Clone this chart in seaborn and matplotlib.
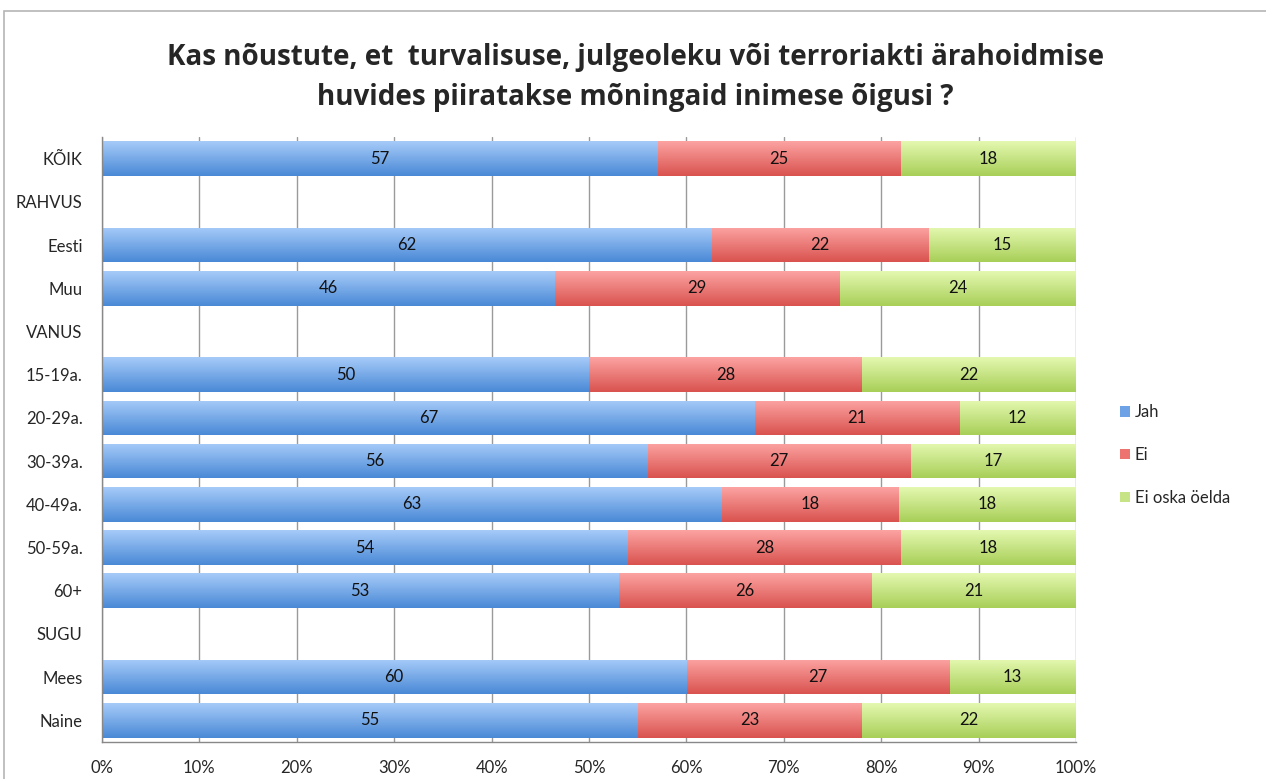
import numpy as np
import pandas as pd
import matplotlib
matplotlib.use("Agg")
import matplotlib.pyplot as plt
import seaborn as sns
from matplotlib.colors import LinearSegmentedColormap
from matplotlib.patches import Patch, Rectangle
from matplotlib.ticker import FixedLocator

# --- data ---
categories = ["KÕIK", "RAHVUS", "Eesti", "Muu", "VANUS", "15-19a.", "20-29a.",
              "30-39a.", "40-49a.", "50-59a.", "60+", "SUGU", "Mees", "Naine"]
jah = [57, None, 62, 46, None, 50, 67, 56, 63, 54, 53, None, 60, 55]
ei = [25, None, 22, 29, None, 28, 21, 27, 18, 28, 26, None, 27, 23]
ei_oska = [18, None, 15, 24, None, 22, 12, 17, 18, 18, 21, None, 13, 22]
series = ["Jah", "Ei", "Ei oska öelda"]
x_ticks = list(range(0, 101, 10))

title = ("Kas nõustute, et  turvalisuse, julgeoleku või terroriakti ärahoidmise\n"
         "huvides piiratakse mõningaid inimese õigusi ?")

# colours: (mid, top, bottom) for the Excel-like gradient
colors = {
    "Jah": ("#6da3e6", "#a6cbf9", "#4a89d6"),
    "Ei": ("#ec7370", "#fca3a2", "#d9534f"),
    "Ei oska öelda": ("#c6e486", "#e4f8b0", "#a8cf58"),
}

df = pd.DataFrame({"group": categories, "Jah": jah, "Ei": ei, "Ei oska öelda": ei_oska})
df = df.dropna().copy()
total = df[series].sum(axis=1)
for s in series:
    df[s + "_pct"] = df[s] / total * 100
df["cum1"] = df["Jah_pct"]
df["cum2"] = df["cum1"] + df["Ei_pct"]
df["cum3"] = df["cum2"] + df["Ei oska öelda_pct"]

sns.set_style("white")
plt.rcParams["font.family"] = ["Lato", "DejaVu Sans"]

fig = plt.figure(figsize=(12.66, 7.79), dpi=100)
ax = fig.add_axes([102 / 1266, 1 - 742 / 779, (1076 - 102) / 1266, (742 - 137) / 779])

# draw cumulative layers back to front, then paint a vertical gradient inside each bar
layers = [("cum3", "Ei oska öelda"), ("cum2", "Ei"), ("cum1", "Jah")]
for i, (col, name) in enumerate(layers):
    n_before = len(ax.patches)
    sns.barplot(data=df, x=col, y="group", order=categories, orient="h",
                color=colors[name][0], saturation=1, width=0.8, linewidth=0,
                ax=ax)
    cmap = LinearSegmentedColormap.from_list(name, [colors[name][1], colors[name][2]])
    grad = np.linspace(0, 1, 64).reshape(-1, 1)
    for p in ax.patches[n_before:]:
        p.set_zorder(2 + i * 0.1)
        x0, y0, w, h = p.get_x(), p.get_y(), p.get_width(), p.get_height()
        if w <= 0:
            continue
        im = ax.imshow(grad, cmap=cmap, aspect="auto", interpolation="bilinear",
                       extent=(x0, x0 + w, y0 + h, y0), zorder=2 + i * 0.1 + 0.05)
        im.set_clip_path(p)

ax.set_xlim(0, 100)
ax.set_ylim(len(categories) - 0.5, -0.5)

# value labels in the middle of each segment
ypos = {c: k for k, c in enumerate(categories)}
for _, r in df.iterrows():
    start = 0
    for s in series:
        ax.text(start + r[s + "_pct"] / 2, ypos[r["group"]], f"{int(r[s])}",
                ha="center", va="center", fontsize=12, color="#111111", zorder=5)
        start += r[s + "_pct"]

# axes styling (Excel look)
ax.set_xlabel("")
ax.set_ylabel("")
ax.set_xticks(x_ticks)
ax.set_xticklabels([f"{t}%" for t in x_ticks], fontsize=12)
ax.set_yticks(range(len(categories)))
ax.set_yticklabels(categories, fontsize=12)
ax.yaxis.set_minor_locator(FixedLocator(np.arange(-0.5, len(categories), 1)))
ax.tick_params(axis="y", which="major", length=0, pad=14)
ax.tick_params(axis="y", which="minor", length=5, color="#888888", direction="out")
ax.tick_params(axis="x", length=5, color="#888888", direction="out", pad=8)
ax.grid(axis="x", color="#9a9a9a", linewidth=1)
ax.set_axisbelow(True)
for side in ["top", "right"]:
    ax.spines[side].set_visible(False)
for side in ["left", "bottom"]:
    ax.spines[side].set_color("#888888")
    ax.spines[side].set_linewidth(1)

# legend
handles = [Patch(facecolor=colors[s][0], edgecolor="none") for s in series]
fig.legend(handles, series, loc="center left", bbox_to_anchor=(1120 / 1266, 1 - 455 / 779),
           frameon=False, fontsize=12, handlelength=0.6, handleheight=0.6,
           handletextpad=0.3, labelspacing=1.6, borderpad=0, borderaxespad=0)

fig.text(0.502, 1 - 77 / 779, title, ha="center", va="center", fontsize=20,
         fontweight="bold", family=["Open Sans", "DejaVu Sans"],
         linespacing=1.5)

# light chart-area frame
fig.patches.append(Rectangle((4 / 1266, -0.02), 1.1, 1 - 11 / 779 + 0.02,
                             transform=fig.transFigure, fill=False,
                             edgecolor="#b5b5b5", linewidth=1.2))

fig.savefig("out.png", dpi=100)
